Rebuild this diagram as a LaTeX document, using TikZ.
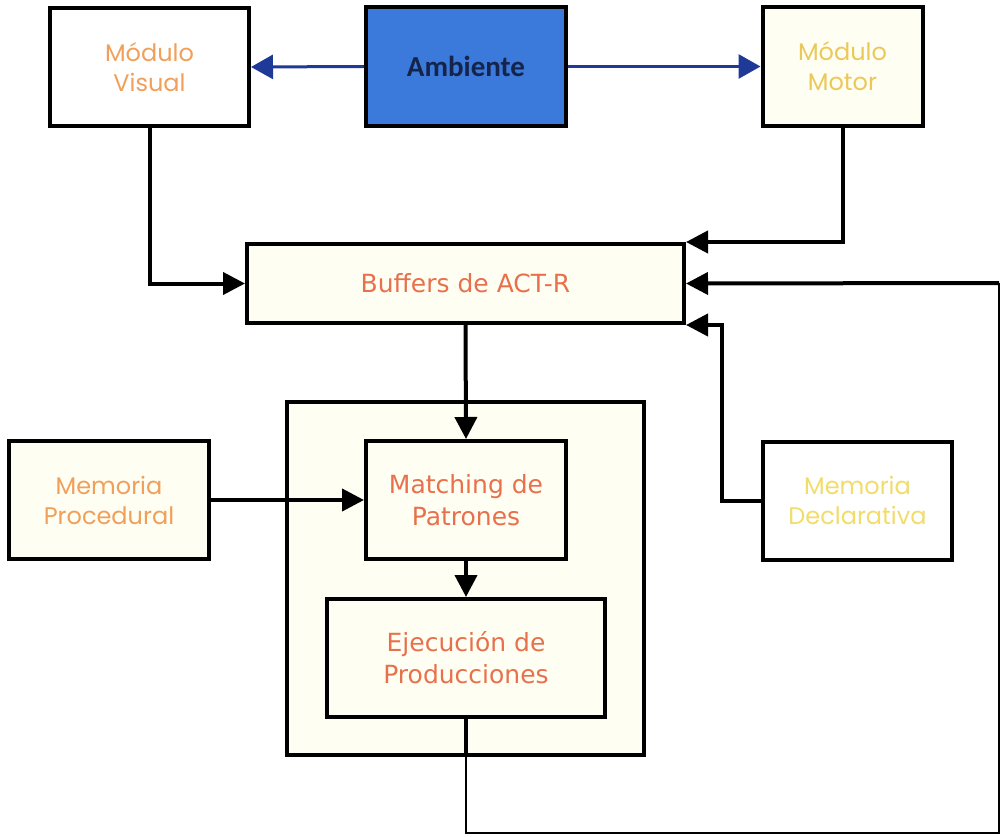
\documentclass[tikz,border=0pt]{standalone}
\usepackage{fontspec}
\setmainfont{DejaVu Sans}
\newfontfamily\modfont{Poppins}
\newfontfamily\envfont{Carlito}
\usetikzlibrary{arrows.meta,calc}

\definecolor{boxfill}{HTML}{FFFEF2}
\definecolor{envblue}{HTML}{3B79DA}
\definecolor{navy}{HTML}{1E3A96}
\definecolor{txtorange}{HTML}{F0A05A}
\definecolor{txtyellow}{HTML}{EBC85A}
\definecolor{txtpale}{HTML}{F2DC6A}
\definecolor{txtcoral}{HTML}{E8704C}
\definecolor{txtenv}{HTML}{15244A}

\tikzset{
  x=1pt, y=-1pt,
  box/.style={draw=black, line width=4pt, fill=boxfill, inner sep=0pt,
    align=center, font=\fontsize{25}{32}\selectfont},
  modtext/.style={font=\modfont\fontsize{24}{30}\selectfont},
  flow/.style={line width=4pt, -{Triangle[length=22pt,width=22pt]}},
  envflow/.style={draw=navy, line width=3pt, -{Triangle[length=22pt,width=24pt]}, navy},
  thinflow/.style={line width=2pt},
}

\begin{document}
\begin{tikzpicture}
\useasboundingbox (0,0) rectangle (1001,837);

% container around the production system
\node[box, minimum width=357pt, minimum height=353pt] (core) at (465.5,578.5) {};

% modules
\node[box, modtext, minimum width=199pt, minimum height=118pt, fill=white, text=txtorange] (visual) at (149.5,67) {Módulo\\Visual};
\node[box, minimum width=200pt, minimum height=119pt, fill=envblue, text=txtenv,
      font=\envfont\bfseries\fontsize{29}{34}\selectfont] (env) at (466,66.5) {Ambiente};
\node[box, modtext, minimum width=160pt, minimum height=119pt, text=txtyellow] (motor) at (842.5,66.5) {Módulo\\Motor};

\node[box, minimum width=437pt, minimum height=79pt, text=txtcoral] (buffers) at (465.5,283.5) {Buffers de ACT-R};

\node[box, modtext, minimum width=200pt, minimum height=118pt, text=txtorange] (proc) at (109,500) {Memoria\\Procedural};
\node[box, modtext, minimum width=189pt, minimum height=118pt, fill=white, text=txtpale] (decl) at (857.5,500.5) {Memoria\\Declarativa};

\node[box, minimum width=200pt, minimum height=118pt, text=txtcoral] (match) at (466,500) {Matching de\\Patrones};
\node[box, minimum width=278pt, minimum height=118pt, text=txtcoral] (exec) at (466,658) {Ejecución de\\Producciones};

% environment to perception / action
\draw[envflow] (env.west) -- (visual.east);
\draw[envflow] (env.east) -- (motor.west);

% modules into the buffers
\draw[flow] (visual.south) |- (buffers.west);
\draw[flow] (motor.south) |- (buffers.north east);
\draw[flow] (decl.west) -- ++(-39,0) |- (buffers.south east);

% production cycle
\draw[flow] (buffers.south) -- (match.north);
\draw[flow] (proc.east) -- (match.west);
\draw[flow] (match.south) -- (exec.north);

% feedback from execution to the buffers
\coordinate (loopA) at (466,833);
\coordinate (loopB) at (999,833);
\coordinate (loopC) at (999,283);
\draw[line width=4pt] (exec.south) -- (exec.south |- core.south);
\draw[thinflow] (exec.south |- core.south) -- (loopA) -- (loopB) -- (loopC);
\draw[flow] (loopC) -- (buffers.east);
\end{tikzpicture}
\end{document}
